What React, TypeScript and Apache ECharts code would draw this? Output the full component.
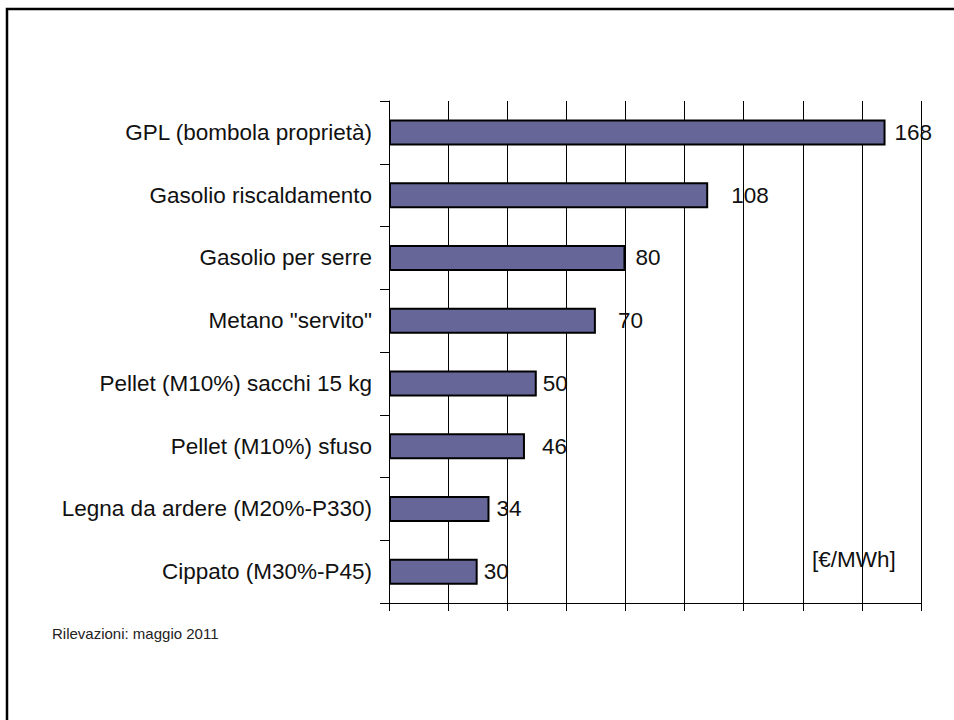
import React, { useEffect, useRef } from "react";
import * as echarts from "echarts";

// Fuel cost per MWh, top to bottom
const categories = [
  "GPL (bombola proprietà)",
  "Gasolio riscaldamento",
  "Gasolio per serre",
  "Metano \"servito\"",
  "Pellet (M10%) sacchi 15 kg",
  "Pellet (M10%) sfuso",
  "Legna da ardere (M20%-P330)",
  "Cippato (M30%-P45)",
];
const costs = [168, 108, 80, 70, 50, 46, 34, 30];

// Gap between each bar end and its value label (px)
const valueLabelGap = [9, 23, 10, 22, 6, 17, 7, 6];

const unitLabel = "[€/MWh]";
const sourceNote = "Rilevazioni: maggio 2011";

const FONT = "'Liberation Sans', Arial, sans-serif";

export default function App() {
  const ref = useRef<HTMLDivElement>(null);

  useEffect(() => {
    if (!ref.current) return;
    const chart = echarts.init(ref.current, undefined, { renderer: "svg" });
    chart.setOption({
      animation: false,
      backgroundColor: "#ffffff",
      grid: { left: 389, right: 33, top: 101, bottom: 117, containLabel: false },
      xAxis: {
        type: "value",
        min: 0,
        max: 180,
        interval: 20,
        axisLine: { show: true, lineStyle: { color: "#000", width: 1 } },
        axisTick: { show: true, length: 8, lineStyle: { color: "#000", width: 1 } },
        axisLabel: { show: false },
        splitLine: { show: true, lineStyle: { color: "#000", width: 1 } },
      },
      yAxis: {
        type: "category",
        inverse: true,
        data: categories,
        axisLine: { show: true, lineStyle: { color: "#000", width: 1 } },
        axisTick: { show: true, length: 9, lineStyle: { color: "#000", width: 1 } },
        axisLabel: {
          margin: 17,
          fontFamily: FONT,
          fontSize: 22.5,
          color: "#111",
        },
      },
      series: [
        {
          type: "bar",
          barWidth: 26,
          data: costs.map((v, i) => ({
            value: v,
            label: { distance: valueLabelGap[i] },
          })),
          itemStyle: { color: "#666699", borderColor: "#000", borderWidth: 2 },
          label: {
            show: true,
            position: "right",
            fontFamily: FONT,
            fontSize: 22.5,
            color: "#111",
            formatter: (p: any) => String(p.value),
          },
        },
      ],
      graphic: [
        {
          type: "rect",
          shape: { x: 7, y: 9, width: 1000, height: 1000 },
          style: { fill: "none", stroke: "#000", lineWidth: 2.5 },
          silent: true,
        },
        {
          type: "text",
          x: 812,
          y: 559,
          style: {
            text: unitLabel,
            fontFamily: FONT,
            fontSize: 22.5,
            fill: "#111",
            verticalAlign: "middle",
          },
        },
        {
          type: "text",
          x: 52,
          y: 633,
          style: {
            text: sourceNote,
            fontFamily: FONT,
            fontSize: 15,
            fill: "#222",
            verticalAlign: "middle",
          },
        },
      ],
    });
    return () => chart.dispose();
  }, []);

  return (
    <div
      ref={ref}
      style={{ position: "fixed", left: 0, top: 0, width: 954, height: 720, background: "#fff" }}
    />
  );
}
